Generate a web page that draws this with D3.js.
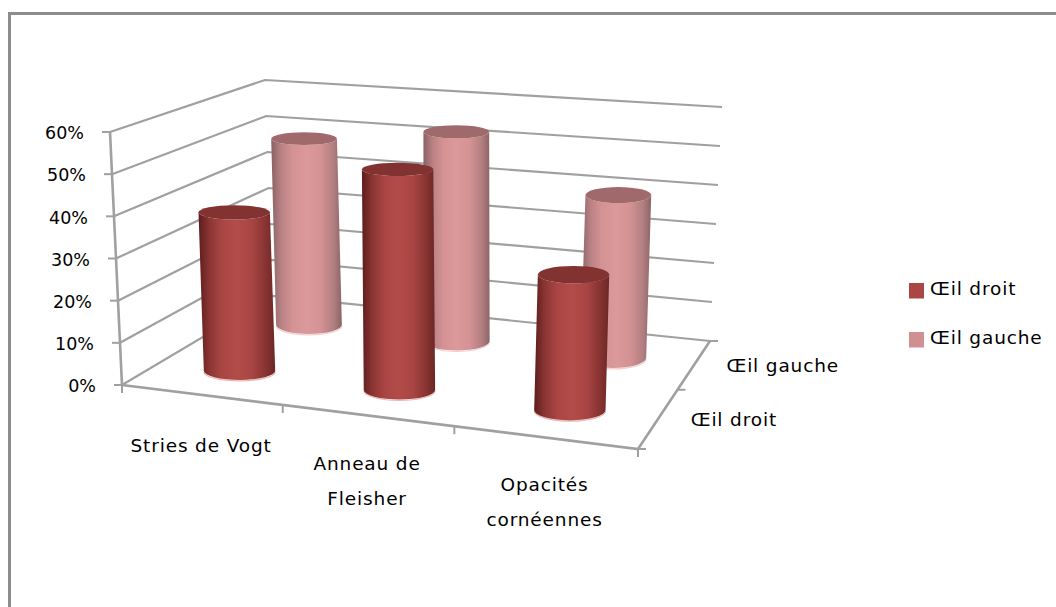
<!DOCTYPE html>
<html>
<head>
<meta charset="utf-8">
<script src="https://cdn.jsdelivr.net/npm/d3@7"></script>
<style>
  html, body { margin: 0; padding: 0; background: #fff; }
  svg { display: block; }
  text { font-family: "DejaVu Sans", sans-serif; font-size: 17.5px; fill: #000; }
  text.spaced { font-size: 18.5px; letter-spacing: 0.85px; }
</style>
</head>
<body>
<div id="chart"></div>
<script>
// categories and values
var categories = [["Stries de Vogt"], ["Anneau de", "Fleisher"], ["Opacités", "cornéennes"]];
var seriesNames = ["Œil droit", "Œil gauche"];
var oeilDroit = [38.5, 52, 31];
var oeilGauche = [49, 53.5, 40.5];
var valueTicks = [0, 10, 20, 30, 40, 50, 60];

var width = 1056, height = 607;

var svg = d3.select("#chart").append("svg")
    .attr("width", width)
    .attr("height", height);

// corners of the 3D box on screen: front left, front right, back right, back left
var floorQuad = [[122, 385], [638, 449], [710, 341], [272, 296]];
var roofQuad = [[110, 132], [651, 172], [722, 107], [265, 80]];

// unit square to quad, plain perspective mapping
function makeHomography(q) {
    var dx1 = q[1][0] - q[2][0], dx2 = q[3][0] - q[2][0], sx = q[0][0] - q[1][0] + q[2][0] - q[3][0];
    var dy1 = q[1][1] - q[2][1], dy2 = q[3][1] - q[2][1], sy = q[0][1] - q[1][1] + q[2][1] - q[3][1];
    var den = dx1 * dy2 - dx2 * dy1;
    var g = (sx * dy2 - dx2 * sy) / den;
    var h = (dx1 * sy - sx * dy1) / den;
    var a = q[1][0] - q[0][0] + g * q[1][0], b = q[3][0] - q[0][0] + h * q[3][0], c = q[0][0];
    var d = q[1][1] - q[0][1] + g * q[1][1], e = q[3][1] - q[0][1] + h * q[3][1], f = q[0][1];
    return function (u, v) {
        var w = g * u + h * v + 1;
        return [(a * u + b * v + c) / w, (d * u + e * v + f) / w];
    };
}

var floorMap = makeHomography(floorQuad);
var roofMap = makeHomography(roofQuad);

var x = d3.scaleBand().domain(d3.range(categories.length)).range([0, 1]);
var z = d3.scaleBand().domain(d3.range(seriesNames.length)).range([0, 1]);
var y = d3.scaleLinear().domain([0, 60]).range([0, 1]);

// u along categories, v along series, value in percent
function project(u, v, value) {
    var a = floorMap(u, v), b = roofMap(u, v), t = y(value);
    return [a[0] + (b[0] - a[0]) * t, a[1] + (b[1] - a[1]) * t];
}

var line = d3.line();
var gridColor = "#a0a0a0";

function drawLine(points, w, color) {
    svg.append("path")
        .attr("d", line(points))
        .attr("fill", "none")
        .attr("stroke", color || gridColor)
        .attr("stroke-width", w || 2);
}

// frame
svg.append("path")
    .attr("d", "M9.5," + height + "V13.5H" + width)
    .attr("fill", "none")
    .attr("stroke", "#8c8c8c")
    .attr("stroke-width", 3);

// gradients for the cylinders
var defs = svg.append("defs");
var cylColors = [
    { stops: ["#5c1d1c", "#8a3533", "#a84543", "#b24c49", "#a84543", "#863331", "#6a2826"], top: "#813231", rim: "#e9b8b8", legend: "#aa4643" },
    { stops: ["#8a6163", "#b98184", "#d49294", "#dc999b", "#d49294", "#b27f81", "#8d6466"], top: "#a06a6c", rim: "#f3d0d0", legend: "#d09091" }
];
cylColors.forEach(function (c, i) {
    var g = defs.append("linearGradient").attr("id", "cyl" + i);
    var offsets = [0, 0.14, 0.3, 0.5, 0.7, 0.88, 1];
    c.stops.forEach(function (col, j) {
        g.append("stop").attr("offset", offsets[j]).attr("stop-color", col);
    });
});

// walls and floor
valueTicks.forEach(function (d) {
    var a = project(0, 0, d), b = project(0, 1, d), c = project(1, 1, d);
    drawLine([a, b, c], 2.2);
    drawLine([[a[0] - 8, a[1]], a], 2);
    svg.append("text")
        .attr("x", a[0] - 26)
        .attr("y", a[1] + 1)
        .attr("dy", "0.36em")
        .attr("text-anchor", "end")
        .text(d3.format(".0%")(d / 100));
});

// left vertical edge
drawLine([project(0, 0, 0), project(0, 0, 60)], 2.6);

// floor front and right edges
drawLine([project(0, 0, 0), project(1, 0, 0), project(1, 1, 0)], 2.6);

// category ticks
d3.range(categories.length + 1).forEach(function (i) {
    var p = project(i / categories.length, 0, 0);
    drawLine([p, [p[0], p[1] + 8]], 2);
});

// series ticks
d3.range(seriesNames.length + 1).forEach(function (i) {
    var p = project(1, i / seriesNames.length, 0);
    drawLine([p, [p[0] + 8, p[1]]], 2);
});

// cylinders, back row first
var seriesValues = [oeilDroit, oeilGauche];
var rowShift = -0.02; // columns sit a little forward of the band centre
var colShift = 0.004;
[1, 0].forEach(function (s) {
    categories.forEach(function (cat, i) {
        var u = x(i) + x.bandwidth() / 2 + colShift;
        var v = z(s) + z.bandwidth() / 2 + rowShift;
        var val = seriesValues[s][i];
        var bottom = project(u, v, 0);
        var top = project(u, v, val);
        // same radius along a row, ellipse height follows the depth at that height
        var rx = (project(1, v, 0)[0] - project(0, v, 0)[0]) * x.bandwidth() * 0.216;
        var ryBottom = Math.abs(project(u, 1, 0)[1] - project(u, 0, 0)[1]) * 0.1;
        var ryTop = Math.abs(project(u, 1, val)[1] - project(u, 0, val)[1]) * 0.105;
        var bottomArc = "M" + (bottom[0] - rx) + "," + bottom[1] +
            "A" + rx + "," + ryBottom + " 0 0 0 " + (bottom[0] + rx) + "," + bottom[1];
        var body = "M" + (top[0] - rx) + "," + top[1] +
            "L" + (bottom[0] - rx) + "," + bottom[1] +
            "A" + rx + "," + ryBottom + " 0 0 0 " + (bottom[0] + rx) + "," + bottom[1] +
            "L" + (top[0] + rx) + "," + top[1] +
            "A" + rx + "," + ryTop + " 0 0 1 " + (top[0] - rx) + "," + top[1] + "Z";
        svg.append("path")
            .attr("d", bottomArc)
            .attr("transform", "translate(0,0.8)")
            .attr("fill", "none")
            .attr("stroke", cylColors[s].rim)
            .attr("stroke-width", 1.2);
        svg.append("path").attr("d", body).attr("fill", "url(#cyl" + s + ")");
        svg.append("ellipse")
            .attr("cx", top[0]).attr("cy", top[1])
            .attr("rx", rx).attr("ry", ryTop)
            .attr("fill", cylColors[s].top);
    });
});

// category labels
var labelDrop = [51, 48, 47];
categories.forEach(function (lines, i) {
    var p = project(x(i) + x.bandwidth() / 2, 0, 0);
    lines.forEach(function (t, j) {
        svg.append("text")
            .attr("class", "spaced")
            .attr("x", p[0])
            .attr("y", p[1] + labelDrop[i] + j * 35)
            .attr("dy", "0.36em")
            .attr("text-anchor", "middle")
            .text(t);
    });
});

// series labels beside the right edge
seriesNames.forEach(function (name, s) {
    var p = project(1, z(s) + z.bandwidth() / 2, 0);
    svg.append("text")
        .attr("class", "spaced")
        .attr("x", p[0] + 32)
        .attr("y", p[1] + 1)
        .attr("dy", "0.36em")
        .text(name);
});

// legend
var legendY = d3.scalePoint().domain(seriesNames).range([291, 340]);
seriesNames.forEach(function (name, s) {
    svg.append("rect")
        .attr("x", 909)
        .attr("y", legendY(name) - 8)
        .attr("width", 15)
        .attr("height", 15.5)
        .attr("fill", cylColors[s].legend);
    svg.append("text")
        .attr("class", "spaced")
        .attr("x", 930)
        .attr("y", legendY(name) - 3)
        .attr("dy", "0.36em")
        .text(name);
});
</script>
</body>
</html>
